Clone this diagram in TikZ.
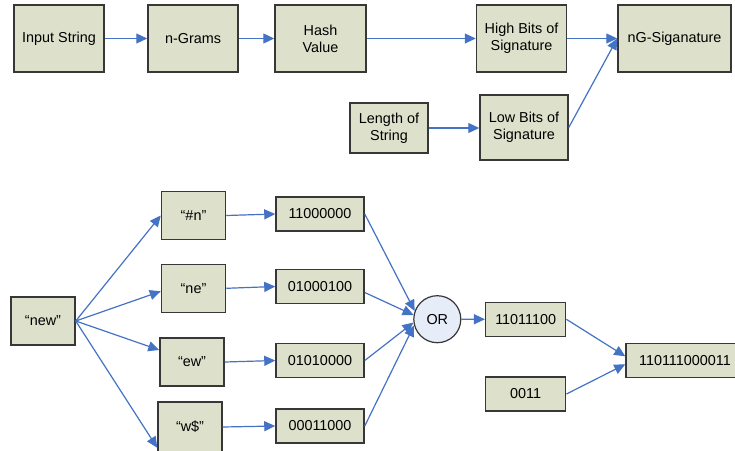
\documentclass[tikz,border=0pt]{standalone}
\usepackage{fontspec}
\setmainfont{Liberation Sans}
\usetikzlibrary{arrows.meta,calc}
\definecolor{boxfill}{RGB}{221,225,203}
\definecolor{boxline}{RGB}{55,55,55}
\definecolor{flow}{RGB}{68,114,196}
\definecolor{orfill}{RGB}{230,237,248}
\begin{document}
\begin{tikzpicture}[x=1pt,y=-1pt,
  font=\fontsize{14.4}{17}\selectfont,
  blk/.style={draw=boxline, line width=1.5pt, fill=boxfill, inner sep=0pt, align=center},
  gate/.style={circle, draw=boxline, line width=1.2pt, fill=orfill, inner sep=0pt, minimum size=47pt},
  flowarrow/.style={draw=flow, line width=1.2pt, -{Triangle[length=11pt,width=10pt]}}]
\useasboundingbox (0,0) rectangle (735,450);
\fill[white] (0,0) rectangle (735,450);
\clip (0,0) rectangle (735,450);

% ---- signature pipeline ----
\node[blk, minimum width=90pt, minimum height=67pt] (input) at (59,38.5) {Input String};
\node[blk, minimum width=90pt, minimum height=67pt] (ngrams) at (193,38.5) {n-Grams};
\node[blk, minimum width=91pt, minimum height=67pt] (hash) at (320.5,38.5) {Hash\\Value};
\node[blk, minimum width=90pt, minimum height=67pt] (high) at (521.5,38.5) {High Bits of\\Signature};
\node[blk, minimum width=113pt, minimum height=67pt] (sig) at (674.5,38.5) {nG-Siganature};
\node[blk, minimum width=78pt, minimum height=50pt] (len) at (389,128) {Length of\\String};
\node[blk, minimum width=88pt, minimum height=65pt] (low) at (524,127.5) {Low Bits of\\Signature};

\draw[flowarrow] (input) -- (ngrams);
\draw[flowarrow] (ngrams) -- (hash);
\draw[flowarrow] (hash) -- (high);
\draw[flowarrow] (high) -- (sig);
\draw[flowarrow] (len.east) -- (len.east -| low.west);
\draw[flowarrow] (low.east) -- (sig.west);

% ---- worked example for "new" ----
\node[blk, minimum width=64pt, minimum height=48pt] (new) at (43,321) {“new”};
\node[blk, minimum width=64pt, minimum height=48pt] (gA) at (193.5,215.5) {“\#n”};
\node[blk, minimum width=64pt, minimum height=48pt] (gB) at (193.5,288.3) {“ne”};
\node[blk, minimum width=64pt, minimum height=48pt] (gC) at (192,362) {“ew”};
\node[blk, minimum width=64pt, minimum height=50pt] (gD) at (190,427) {“w\$”};

\node[blk, minimum width=88pt, minimum height=34pt] (bA) at (320,214) {11000000};
\node[blk, minimum width=88pt, minimum height=34pt] (bB) at (320,286.5) {01000100};
\node[blk, minimum width=88pt, minimum height=34pt] (bC) at (320,360.5) {01010000};
\node[blk, minimum width=88pt, minimum height=34pt] (bD) at (320,426) {00011000};

\node[gate] (or) at (437.3,319.2) {OR};
\node[blk, minimum width=80pt, minimum height=34pt] (high8) at (525.7,319.3) {11011100};
\node[blk, minimum width=80pt, minimum height=34pt] (low4) at (525.7,394) {0011};
\node[blk, minimum width=118pt, minimum height=34pt] (full) at (685,360.3) {110111000011};

\draw[flowarrow] (new.east) -- (gA.west);
\draw[flowarrow] (new.east) -- ([yshift=-3pt]gB.west);
\draw[flowarrow] (new.east) -- ([yshift=12pt]gC.west);
\draw[flowarrow] (new.east) -- ([yshift=5pt]gD.south west);

\draw[flowarrow] (gA.east) -- (bA.west);
\draw[flowarrow] (gB.east) -- (bB.west);
\draw[flowarrow] (gC.east) -- (bC.west);
\draw[flowarrow] (gD.east) -- (bD.west);

\draw[flowarrow] (bA.east) -- (or.160);
\draw[flowarrow] ([yshift=-6pt]bB.east) -- (or.170);
\draw[flowarrow] (bC.east) -- (or.188);
\draw[flowarrow] (bD.east) -- (or.195);

\draw[flowarrow] (or) -- (high8);
\draw[flowarrow] (high8.east) -- ([yshift=4pt]full.west);
\draw[flowarrow] (low4.east) -- ([yshift=-4pt]full.west);
\end{tikzpicture}
\end{document}
